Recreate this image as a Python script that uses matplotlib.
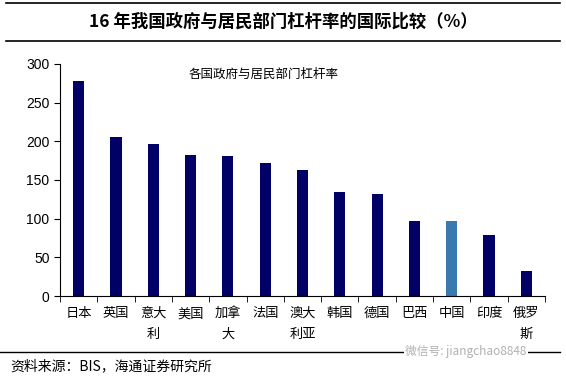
import matplotlib.pyplot as plt
import numpy as np

plt.rcParams['font.family'] = ['Noto Sans CJK SC', 'DejaVu Sans']
plt.rcParams['axes.unicode_minus'] = False

# data
countries = ['日本', '英国', '意大\n利', '美国', '加拿\n大', '法国', '澳大\n利亚',
             '韩国', '德国', '巴西', '中国', '印度', '俄罗\n斯']
leverage = [278, 206, 196, 182, 181, 172, 163, 134, 132, 97, 97, 79, 32]
highlight = '中国'

navy = '#000066'
blue = '#3a78b0'

fig = plt.figure(figsize=(5.66, 3.8), dpi=100)
ax = fig.add_axes([0.106, 0.221, 0.857, 0.611])

x = np.arange(len(countries))
colors = [blue if c == highlight else navy for c in countries]
ax.bar(x, leverage, width=0.3, color=colors)

ax.set_xlim(-0.5, len(countries) - 0.5)
ax.set_ylim(0, 300)
ax.set_yticks(range(0, 301, 50))
ax.tick_params(axis='y', labelsize=10, length=4, direction='out')
for lbl in ax.get_yticklabels():
    lbl.set_family(['Liberation Sans', 'DejaVu Sans'])

# category labels between boundary ticks
ax.set_xticks(x)
ax.set_xticklabels(countries, fontsize=9.5, linespacing=1.75, va='top')
ax.tick_params(axis='x', length=0, pad=8)
ax.set_xticks(np.arange(-0.5, len(countries), 1), minor=True)
ax.tick_params(axis='x', which='minor', length=4, direction='out')

for s in ['top', 'right']:
    ax.spines[s].set_visible(False)
ax.spines['left'].set_linewidth(0.8)
ax.spines['bottom'].set_linewidth(0.8)

ax.text(0.42, 0.955, '各国政府与居民部门杠杆率', transform=ax.transAxes,
        ha='center', va='center', fontsize=9)

# title block and frame lines
fig.text(0.5, 0.942, '16 年我国政府与居民部门杠杆率的国际比较（%）',
         ha='center', va='center', fontsize=12.5, fontweight='bold')
for y in [0.992, 0.892]:
    fig.add_artist(plt.Line2D([0.01, 0.99], [y, y], color='black', lw=1.2,
                              transform=fig.transFigure))
fig.add_artist(plt.Line2D([0.0, 0.99], [0.074, 0.074], color='black', lw=1.0,
                          transform=fig.transFigure))

fig.text(0.018, 0.036, '资料来源：BIS，海通证券研究所', ha='left', va='center',
         fontsize=10)
fig.text(0.93, 0.074, '微信号: jiangchao8848', ha='right', va='center',
         fontsize=8.5, color='#b0b0b0',
         bbox=dict(facecolor='white', edgecolor='none', pad=1))

fig.savefig('out.png', dpi=100)
